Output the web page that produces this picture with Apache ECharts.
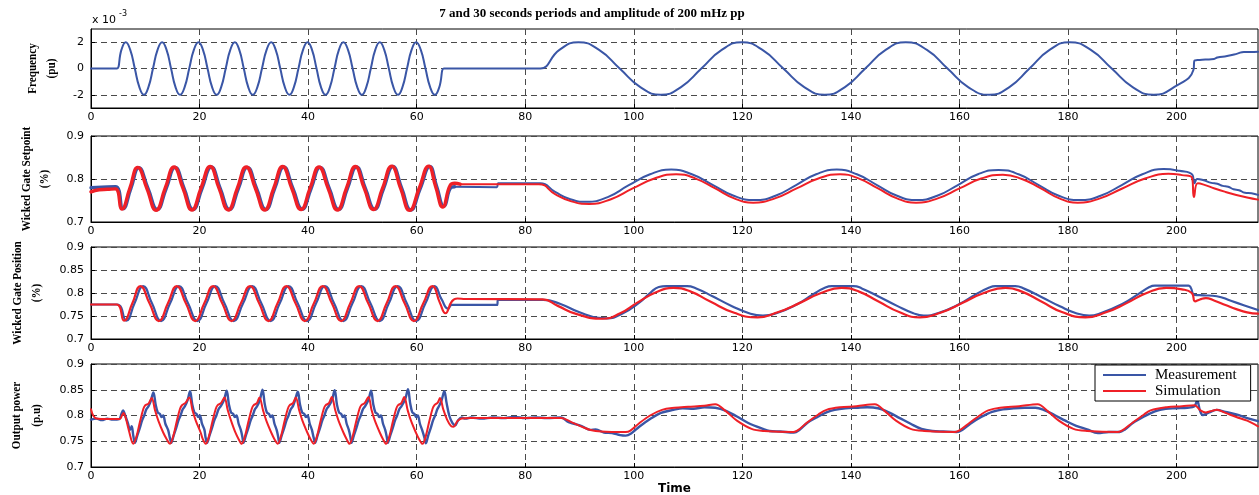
<!DOCTYPE html>
<html>
<head>
<meta charset="utf-8">
<title>7 and 30 seconds periods and amplitude of 200 mHz pp</title>
<script src="https://cdn.jsdelivr.net/npm/echarts@6/dist/echarts.min.js"></script>
<style>
  html, body { margin: 0; padding: 0; background: #fff; }
  #chart { width: 1259px; height: 495px; }
</style>
</head>
<body>
<div id="chart"></div>
<script>
// ---- tick values ----
const timeTicks = [0, 20, 40, 60, 80, 100, 120, 140, 160, 180, 200];
const freqTicks = [-2, 0, 2];
const setpointTicks = [0.7, 0.8, 0.9];
const positionTicks = [0.7, 0.75, 0.8, 0.85, 0.9];
const powerTicks = [0.7, 0.75, 0.8, 0.85, 0.9];

// ---- frequency deviation, x 1e-3 pu : [time s, value] ----
const freqMeas = [
  [0,0],[4.4,0],[4.8,0],[5.6,1.41],[6.4,2],[7.23,1.41],[8.07,0],[8.91,-1.41],[9.75,-2],[10.58,-1.41],
  [11.42,0],[12.26,1.41],[13.1,2],[13.92,1.41],[14.75,0],[15.57,-1.41],[16.4,-2],[17.25,-1.41],
  [18.1,0],[18.95,1.41],[19.8,2],[20.63,1.41],[21.47,0],[22.31,-1.41],[23.15,-2],[23.98,-1.41],
  [24.82,0],[25.66,1.41],[26.5,2],[27.32,1.41],[28.15,0],[28.97,-1.41],[29.8,-2],[30.65,-1.41],
  [31.5,0],[32.35,1.41],[33.2,2],[34.03,1.41],[34.87,0],[35.71,-1.41],[36.55,-2],[37.38,-1.41],
  [38.22,0],[39.06,1.41],[39.9,2],[40.72,1.41],[41.55,0],[42.37,-1.41],[43.2,-2],[44.02,-1.41],
  [44.85,0],[45.67,1.41],[46.5,2],[47.35,1.41],[48.2,0],[49.05,-1.41],[49.9,-2],[50.72,-1.41],
  [51.55,0],[52.37,1.41],[53.2,2],[54.03,1.41],[54.87,0],[55.71,-1.41],[56.55,-2],[57.38,-1.41],
  [58.22,0],[59.06,1.41],[59.9,2],[60.76,1.41],[61.62,0],[62.48,-1.41],[63.35,-2],[64.17,-1.41],
  [65.0,0],[65.4,0],[82.4,0],[82.8,0],[86.3,1.41],[89.8,2],[93.6,1.41],[97.4,0],[101.2,-1.41],
  [105.0,-2],[108.7,-1.41],[112.45,0],[116.2,1.41],[119.9,2],[123.7,1.41],[127.55,0],[131.4,-1.41],
  [135.2,-2],[138.9,-1.41],[142.65,0],[146.4,1.41],[150.1,2],[154.0,1.41],[157.8,0],[161.6,-1.41],
  [165.5,-2],[169.2,-1.41],[172.9,0],[176.6,1.41],[180.3,2],[184.2,1.41],[188.05,0],[191.9,-1.41],
  [195.8,-2],[199.6,-1.4],[203.1,-0.12],[203.3,0.6],[203.8,0.64],[205.3,0.68],[206.9,0.72],
  [207.5,0.83],[209.3,0.95],[211.2,1.13],[212.4,1.26],[213.5,1.25],[215,1.27]
];

// ---- wicket gate setpoint ----
const setpointMeasOsc = [
  [0,0.780],[2,0.781],[4.5,0.782],
  [5.9,0.731],[7.35,0.778],[8.8,0.826],[10.5,0.778],
  [12.2,0.729],[13.85,0.778],[15.5,0.827],[17.15,0.778],
  [18.8,0.729],[20.45,0.778],[22.15,0.828],[23.8,0.778],
  [25.5,0.729],[27.15,0.778],[28.8,0.827],[30.5,0.778],
  [32.2,0.729],[33.85,0.778],[35.5,0.828],[37.2,0.778],
  [38.9,0.730],[40.55,0.778],[42.2,0.827],[43.9,0.778],
  [45.6,0.729],[47.25,0.778],[48.9,0.828],[50.55,0.778],
  [52.25,0.730],[53.9,0.778],[55.6,0.829],[57.25,0.778],
  [58.9,0.728],[60.65,0.778],[62.4,0.829],[63.7,0.782],
  [65.0,0.737],[66.4,0.781],[67.0,0.782]
];
const setpointMeasSlow = [
  [67.0,0.782],[74.8,0.781],[75.0,0.790],[82.8,0.790],[85.5,0.770],[88.3,0.753],[91.3,0.747],
  [95.2,0.758],[99.0,0.785],[103.0,0.811],[106.9,0.822],[110.7,0.811],[114.6,0.786],[118.4,0.761],
  [122.3,0.751],[126.1,0.761],[129.9,0.786],[133.6,0.811],[137.4,0.822],[141.1,0.811],[144.8,0.786],
  [148.5,0.761],[152.2,0.751],[155.9,0.761],[159.7,0.786],[163.4,0.811],[167.2,0.821],[170.9,0.811],
  [174.6,0.786],[178.3,0.761],[182.1,0.751],[186.0,0.761],[189.9,0.786],[193.7,0.811],[197.6,0.823],
  [200.5,0.819],[202.9,0.810],[203.3,0.790],[203.8,0.800],[205,0.797],[206.4,0.791],[207.5,0.789],
  [208.5,0.784],[209.5,0.782],[210.5,0.776],[211.5,0.774],[212.6,0.768],[213.8,0.767],[215,0.763]
];
const setpointSimOsc = [
  [0,0.770],[1.5,0.775],[3,0.776],[4.5,0.777],
  [5.7,0.730],[7.15,0.778],[8.6,0.827],[10.3,0.778],
  [12.0,0.727],[13.65,0.778],[15.3,0.828],[16.95,0.778],
  [18.6,0.728],[20.25,0.778],[21.95,0.829],[23.6,0.778],
  [25.3,0.728],[26.95,0.778],[28.6,0.828],[30.3,0.778],
  [32.0,0.728],[33.65,0.778],[35.3,0.829],[37.0,0.778],
  [38.7,0.729],[40.35,0.778],[42.0,0.828],[43.7,0.778],
  [45.4,0.728],[47.05,0.778],[48.7,0.829],[50.35,0.778],
  [52.05,0.729],[53.7,0.778],[55.4,0.830],[57.05,0.778],
  [58.7,0.727],[60.45,0.778],[62.2,0.830],[63.5,0.782],
  [64.8,0.735],[66.2,0.786],[67.0,0.790],[68.0,0.788]
];
const setpointSimSlow = [
  [68.0,0.788],[75,0.788],[82.5,0.788],[85.5,0.765],[88.5,0.748],[91.8,0.742],
  [95.8,0.753],[99.8,0.778],[103.8,0.801],[107.8,0.811],[111.4,0.801],[115,0.778],[118.5,0.755],
  [122.0,0.745],[126,0.755],[130,0.778],[134,0.801],[138.0,0.811],[141.5,0.801],[145,0.778],
  [148.5,0.755],[152.0,0.745],[156,0.755],[160,0.778],[164,0.801],[168.0,0.810],[171.5,0.800],
  [175,0.778],[178.4,0.755],[181.8,0.745],[185.9,0.755],[190,0.778],[194.2,0.801],[198.5,0.812],
  [201,0.809],[202.8,0.804],[203.2,0.758],[203.9,0.790],[205,0.787],[207,0.778],[209,0.770],
  [211,0.763],[213,0.757],[215,0.752]
];

// ---- wicket gate position ----
const positionMeas = [
  [0,0.775],[4.8,0.775],
  [6.5,0.740],[8.0,0.777],[9.6,0.815],[11.25,0.777],
  [12.9,0.739],[14.55,0.777],[16.2,0.815],[17.9,0.777],
  [19.6,0.739],[21.25,0.777],[22.9,0.815],[24.6,0.777],
  [26.3,0.739],[28.0,0.777],[29.7,0.815],[31.4,0.777],
  [33.1,0.739],[34.75,0.777],[36.4,0.815],[38.1,0.777],
  [39.8,0.739],[41.45,0.777],[43.1,0.815],[44.8,0.777],
  [46.5,0.739],[48.15,0.777],[49.8,0.815],[51.5,0.777],
  [53.2,0.739],[54.85,0.777],[56.5,0.815],[58.2,0.777],
  [59.9,0.739],[61.6,0.777],[63.3,0.815],[64.6,0.786],
  [65.8,0.766],[66.5,0.774],[74.8,0.774],[75.0,0.785],[83.3,0.785],
  [86.5,0.776],[90,0.758],[93.5,0.746],[95,0.745],[98,0.756],[101,0.779],[103,0.800],
  [104.6,0.813],[106,0.815],[109.8,0.815],[111.5,0.810],[114.5,0.793],[118,0.772],
  [121.5,0.755],[123.8,0.751],[126,0.755],[130,0.775],[133,0.797],[135.3,0.812],
  [136.5,0.815],[140.5,0.815],[142,0.810],[145,0.793],[148.5,0.772],[151.5,0.756],
  [153.4,0.751],[156,0.756],[160,0.776],[163,0.797],[165.5,0.812],[166.6,0.815],
  [170.3,0.815],[172,0.809],[175,0.792],[178.5,0.771],[181.5,0.756],[183.9,0.751],
  [186,0.756],[190,0.776],[193,0.798],[195,0.813],[196,0.816],[202.2,0.816],[202.6,0.812],
  [203.3,0.796],[205,0.795],[207.4,0.793],[210,0.783],[212.5,0.773],[215,0.763]
];
const positionSim = [
  [0,0.775],[4.7,0.775],
  [6.1,0.740],[7.6,0.777],[9.1,0.815],[10.8,0.777],
  [12.5,0.739],[14.15,0.777],[15.8,0.815],[17.5,0.777],
  [19.2,0.739],[20.85,0.777],[22.5,0.815],[24.2,0.777],
  [25.9,0.739],[27.6,0.777],[29.3,0.815],[31.0,0.777],
  [32.7,0.739],[34.35,0.777],[36.0,0.815],[37.7,0.777],
  [39.4,0.739],[41.05,0.777],[42.7,0.815],[44.4,0.777],
  [46.1,0.739],[47.75,0.777],[49.4,0.815],[51.1,0.777],
  [52.8,0.739],[54.45,0.777],[56.1,0.815],[57.8,0.777],
  [59.5,0.739],[61.2,0.777],[62.9,0.815],[64.3,0.778],
  [65.3,0.756],[66.5,0.782],[67.5,0.788],[69,0.787],[83.2,0.786],
  [86,0.772],[89.5,0.754],[94.2,0.744],[97.5,0.756],[100.5,0.778],[104,0.801],[107.3,0.811],
  [110.5,0.803],[114,0.782],[118.5,0.757],[122.8,0.747],[126.5,0.758],[130.5,0.778],
  [134.5,0.800],[138.3,0.811],[141.5,0.803],[145,0.782],[149,0.758],[152.7,0.747],
  [156.5,0.757],[160.5,0.778],[164.5,0.800],[168.5,0.811],[171.5,0.803],[175,0.782],
  [179,0.758],[183.2,0.747],[187,0.758],[190.8,0.778],[194.5,0.800],[198.1,0.811],
  [201,0.808],[202.8,0.800],[203.4,0.782],[204.3,0.786],[205.4,0.789],[207,0.783],
  [209,0.774],[211,0.765],[213,0.758],[215,0.755]
];

// ---- output power ----
const powerMeas = [
  [0,0.792],[1,0.794],[2,0.791],[3,0.794],[4,0.792],[5.2,0.793],[5.6,0.803],[5.9,0.810],
  [6.3,0.800],[6.8,0.785],[7.2,0.772],[7.5,0.779],[7.8,0.760],[8.1,0.747],
  [8.5,0.760],[9.0,0.776],[9.4,0.790],[9.8,0.800],[10.2,0.812],[10.6,0.818],[11.0,0.828],[11.5,0.845],
  [11.9,0.822],[12.3,0.806],[12.7,0.803],[13.0,0.797],[13.3,0.800],[13.7,0.784],[14.2,0.772],[14.5,0.758],[14.8,0.747],
  [15.2,0.760],[15.7,0.776],[16.1,0.790],[16.5,0.800],[16.9,0.812],[17.3,0.818],[17.8,0.830],[18.25,0.847],
  [18.65,0.822],[19.05,0.806],[19.45,0.803],[19.75,0.797],[20.05,0.800],[20.45,0.784],[20.9,0.772],[21.1,0.758],[21.4,0.747],
  [21.8,0.760],[22.3,0.776],[22.7,0.790],[23.1,0.800],[23.5,0.812],[23.9,0.818],[24.5,0.830],[25.0,0.848],
  [25.4,0.822],[25.8,0.806],[26.2,0.803],[26.5,0.797],[26.8,0.800],[27.2,0.784],[27.6,0.772],[27.9,0.758],[28.1,0.747],
  [28.5,0.760],[29.0,0.776],[29.4,0.790],[29.8,0.800],[30.2,0.812],[30.6,0.818],[31.1,0.830],[31.6,0.850],
  [32.0,0.823],[32.4,0.806],[32.8,0.803],[33.1,0.797],[33.4,0.800],[33.8,0.784],[34.2,0.772],[34.5,0.758],[34.7,0.747],
  [35.1,0.760],[35.6,0.776],[36.0,0.790],[36.4,0.800],[36.8,0.812],[37.2,0.818],[37.6,0.830],[38.1,0.846],
  [38.5,0.822],[38.9,0.806],[39.3,0.803],[39.6,0.797],[39.9,0.800],[40.3,0.784],[40.7,0.772],[41.0,0.758],[41.3,0.747],
  [41.7,0.760],[42.2,0.776],[42.6,0.790],[43.0,0.800],[43.4,0.812],[43.8,0.818],[44.4,0.830],[44.9,0.849],
  [45.3,0.822],[45.7,0.806],[46.1,0.803],[46.4,0.797],[46.7,0.800],[47.1,0.784],[47.5,0.772],[47.8,0.758],[48.0,0.747],
  [48.4,0.760],[48.9,0.776],[49.3,0.790],[49.7,0.800],[50.1,0.812],[50.5,0.818],[51.1,0.830],[51.6,0.848],
  [52.0,0.822],[52.4,0.806],[52.8,0.803],[53.1,0.797],[53.4,0.800],[53.8,0.784],[54.2,0.772],[54.5,0.758],[54.7,0.747],
  [55.1,0.760],[55.6,0.776],[56.0,0.790],[56.4,0.800],[56.8,0.812],[57.2,0.818],[57.9,0.832],[58.4,0.851],
  [58.8,0.824],[59.2,0.806],[59.6,0.803],[59.9,0.797],[60.2,0.800],[60.6,0.784],[61.0,0.772],[61.4,0.758],[61.7,0.746],
  [62.1,0.760],[62.6,0.776],[63.0,0.790],[63.4,0.800],[63.8,0.812],[64.2,0.820],[64.6,0.830],[65.1,0.847],
  [65.5,0.825],[66.0,0.800],[66.6,0.785],[67.1,0.781],[67.6,0.790],[68.3,0.796],[69,0.794],[70,0.796],
  [72,0.794],[74,0.796],[76,0.795],[78,0.797],[80,0.795],[82,0.796],[84,0.795],[86.6,0.796],
  [88,0.787],[89,0.784],[90.5,0.779],[92,0.772],[93,0.773],[94.5,0.767],[96,0.766],[97.5,0.762],
  [98.5,0.761],[99.5,0.765],[101,0.778],[103,0.793],[105,0.805],[107.3,0.811],[109,0.814],[111,0.813],
  [113,0.816],[115,0.815],[117,0.809],[119,0.798],[121,0.786],[123.8,0.774],[125,0.770],[127,0.769],
  [129.5,0.767],[130.5,0.772],[132,0.786],[134,0.798],[135.5,0.806],[137,0.811],[139,0.814],[141,0.815],
  [143,0.816],[145,0.814],[147,0.806],[149,0.795],[151,0.784],[153,0.774],[155,0.770],[157,0.769],
  [159.5,0.768],[160.5,0.772],[162,0.784],[164,0.797],[166,0.807],[168,0.812],[170,0.814],[172,0.815],
  [174,0.815],[175.5,0.811],[177.5,0.801],[179.5,0.790],[181.5,0.780],[183.5,0.773],[185.5,0.766],
  [187.5,0.768],[189.5,0.768],[190.5,0.773],[192,0.786],[194,0.798],[196,0.808],[198,0.813],[200,0.814],
  [202,0.815],[203.3,0.818],[203.8,0.829],[204.3,0.810],[204.8,0.801],[206,0.806],[207.4,0.811],
  [209,0.807],[211,0.802],[213,0.795],[215,0.789]
];
const powerSim = [
  [0,0.812],[0.4,0.800],[1,0.794],[3,0.793],[5.3,0.793],[5.7,0.800],[6.0,0.805],[6.4,0.795],[7.0,0.770],[7.8,0.745],
  [8.4,0.760],[9.0,0.787],[9.65,0.813],[10.0,0.820],[10.6,0.823],[11.18,0.834],[11.8,0.810],[12.4,0.790],[13.3,0.767],[13.95,0.754],[14.56,0.745],
  [15.16,0.760],[15.76,0.787],[16.4,0.813],[16.76,0.820],[17.36,0.824],[18.1,0.835],[18.7,0.810],[19.3,0.790],[20.2,0.767],[20.6,0.754],[21.14,0.745],
  [21.74,0.760],[22.34,0.787],[22.99,0.813],[23.34,0.820],[23.94,0.824],[24.58,0.835],[25.2,0.810],[25.8,0.790],[26.6,0.767],[27.2,0.754],[27.77,0.745],
  [28.37,0.760],[28.97,0.787],[29.62,0.813],[29.97,0.820],[30.57,0.824],[31.03,0.835],[31.7,0.810],[32.3,0.790],[33.2,0.767],[33.8,0.754],[34.41,0.745],
  [35.01,0.760],[35.61,0.787],[36.26,0.813],[36.61,0.820],[37.21,0.824],[37.73,0.835],[38.35,0.810],[38.95,0.790],[39.85,0.767],[40.45,0.754],[41.04,0.745],
  [41.64,0.760],[42.24,0.787],[42.89,0.813],[43.24,0.820],[43.84,0.824],[44.36,0.836],[45.0,0.810],[45.6,0.790],[46.5,0.767],[47.1,0.754],[47.62,0.745],
  [48.22,0.760],[48.82,0.787],[49.47,0.813],[49.82,0.820],[50.42,0.824],[51.12,0.836],[51.7,0.810],[52.3,0.790],[53.2,0.767],[53.8,0.754],[54.38,0.745],
  [54.98,0.760],[55.58,0.787],[56.23,0.813],[56.58,0.820],[57.18,0.824],[57.70,0.836],[58.35,0.810],[58.95,0.790],[59.85,0.767],[60.45,0.754],[61.08,0.745],
  [61.68,0.760],[62.28,0.787],[62.93,0.813],[63.28,0.820],[63.88,0.825],[64.3,0.834],[64.9,0.812],[65.6,0.792],[66.3,0.780],[66.8,0.778],
  [67.5,0.789],[68.3,0.794],[70,0.795],[80,0.795],[86.6,0.795],
  [88.5,0.787],[90.5,0.778],[92,0.772],[94,0.769],[98.5,0.768],[99.3,0.770],[101,0.785],[103,0.800],
  [105.2,0.811],[107.5,0.815],[110,0.817],[113,0.819],[115,0.822],[117,0.808],[119,0.790],[121.7,0.774],
  [124,0.770],[129.4,0.768],[130.2,0.771],[132,0.787],[134,0.802],[135.5,0.811],[138,0.816],[141,0.818],
  [144.4,0.822],[146.3,0.808],[148.3,0.790],[151,0.774],[153.5,0.770],[159.2,0.768],[160,0.771],[162,0.787],
  [164,0.802],[165.3,0.810],[167.5,0.815],[171,0.818],[174.4,0.822],[176.3,0.808],[178.3,0.790],[181,0.774],
  [183.5,0.770],[189.2,0.768],[190,0.771],[192,0.787],[194,0.802],[195.2,0.810],[198.2,0.816],[201,0.818],
  [203.3,0.820],[204.4,0.810],[205.4,0.806],[206.5,0.809],[207.4,0.811],[209,0.805],[211,0.797],[213,0.790],[215,0.779]
];

// ---- styling ----
const BLUE = '#3a56a6';
const RED = '#ef2027';
const DASH = '#4a4a4a';
const T_MAX = 215;
const PLOT_LEFT = 91;
const PLOT_WIDTH = 1167;

const panels = [
  { top: 29,  height: 79,  min: -3,  max: 3,   ticks: freqTicks,     names: ['Frequency', '(pu)'],              nameX: [32.5, 52] },
  { top: 136, height: 86,  min: 0.7, max: 0.9, ticks: setpointTicks, names: ['Wicked Gate Setpoint', '(%)'],   nameX: [26.5, 45] },
  { top: 247, height: 92,  min: 0.7, max: 0.9, ticks: positionTicks, names: ['Wicked Gate Position', '(%)'],   nameX: [18, 36.5] },
  { top: 364, height: 103, min: 0.7, max: 0.9, ticks: powerTicks,    names: ['Output power', '(p.u)'],          nameX: [16.5, 37] }
];

const labelFont = { color: '#000', fontFamily: 'DejaVu Sans', fontSize: 11 };
const dashed = { show: true, lineStyle: { color: DASH, width: 1, type: [6, 4] } };
const fmt = v => String(Math.round(v * 1000) / 1000);

const grids = panels.map(p => ({
  left: PLOT_LEFT, top: p.top, width: PLOT_WIDTH, height: p.height,
  show: true, borderColor: '#000', borderWidth: 1, backgroundColor: 'transparent',
  containLabel: false, outerBoundsMode: 'none'
}));

const xAxes = panels.map((p, i) => ({
  type: 'value', gridIndex: i, min: 0, max: T_MAX,
  axisLine: { show: true, onZero: false, lineStyle: { color: '#000', width: 1 } },
  axisTick: { show: true, inside: true, length: 4, customValues: timeTicks, lineStyle: { color: '#000' } },
  axisLabel: Object.assign({ customValues: timeTicks, margin: 3.5, formatter: fmt }, labelFont),
  splitLine: dashed,
  name: i === panels.length - 1 ? 'Time' : '',
  nameLocation: 'middle', nameGap: 14,
  nameTextStyle: { color: '#000', fontFamily: 'DejaVu Sans', fontWeight: 'bold', fontSize: 12 }
}));

const yAxes = panels.map((p, i) => ({
  type: 'value', gridIndex: i, min: p.min, max: p.max,
  axisLine: { show: true, onZero: false, lineStyle: { color: '#000', width: 1 } },
  axisTick: { show: true, inside: true, length: 4, customValues: p.ticks, lineStyle: { color: '#000' } },
  axisLabel: Object.assign({ customValues: p.ticks, margin: 7, formatter: fmt }, labelFont),
  splitLine: dashed
}));

function line(name, data, color, idx, width, smooth) {
  return {
    type: 'line', name, data, xAxisIndex: idx, yAxisIndex: idx,
    color, showSymbol: false, symbol: 'none', smooth, silent: true,
    lineStyle: { color, width, cap: 'round', join: 'round' },
    itemStyle: { color }, emphasis: { disabled: true }, animation: false
  };
}

function text(str, x, y, font, extra) {
  return Object.assign({
    type: 'text', x, y, silent: true,
    style: { text: str, font, fill: '#000', align: 'center', verticalAlign: 'middle',
             textAlign: 'center', textVerticalAlign: 'middle' }
  }, extra || {});
}

const graphics = [
  text('7 and 30 seconds periods and amplitude of 200 mHz pp', 592, 14, 'bold 13px "Liberation Serif"'),
  text('x 10', 92, 20, '11px "DejaVu Sans"', {}),
  text('-3', 119, 14, '8px "DejaVu Sans"', {})
];
graphics[1].style.align = graphics[1].style.textAlign = 'left';
graphics[2].style.align = graphics[2].style.textAlign = 'left';

panels.forEach(p => {
  const cy = p.top + p.height / 2;
  p.names.forEach((n, k) => {
    graphics.push(text(n, p.nameX[k], cy, 'bold 12px "Liberation Serif"',
      { rotation: Math.PI / 2, scaleX: 0.93, scaleY: 1.1 }));
  });
});

const chart = echarts.init(document.getElementById('chart'), null, { renderer: 'canvas' });
chart.setOption({
  backgroundColor: '#fff',
  animation: false,
  grid: grids,
  xAxis: xAxes,
  yAxis: yAxes,
  legend: {
    data: ['Measurement', 'Simulation'],
    orient: 'vertical', left: 1095, top: 365,
    icon: 'rect', itemWidth: 43, itemHeight: 2, itemGap: 0,
    backgroundColor: '#fff', borderColor: '#000', borderWidth: 1, borderRadius: 0,
    padding: [2, 14, 2, 8],
    selectedMode: false,
    textStyle: { color: '#000', fontFamily: 'Liberation Serif', fontSize: 15, lineHeight: 16, padding: [0, 0, 0, 4] }
  },
  graphic: graphics,
  series: [
    line('Frequency', freqMeas, BLUE, 0, 2, 0.5),
    line('Measurement', setpointMeasOsc, BLUE, 1, 3.4, 0.5),
    line('Measurement', setpointMeasSlow, BLUE, 1, 2, 0.5),
    line('Simulation', setpointSimOsc, RED, 1, 3.4, 0.5),
    line('Simulation', setpointSimSlow, RED, 1, 2, 0.5),
    line('Measurement', positionMeas, BLUE, 2, 2.2, 0.5),
    line('Simulation', positionSim, RED, 2, 2.2, 0.5),
    line('Measurement', powerMeas, BLUE, 3, 2.4, 0.35),
    line('Simulation', powerSim, RED, 3, 2, 0.35)
  ]
});
</script>
</body>
</html>
